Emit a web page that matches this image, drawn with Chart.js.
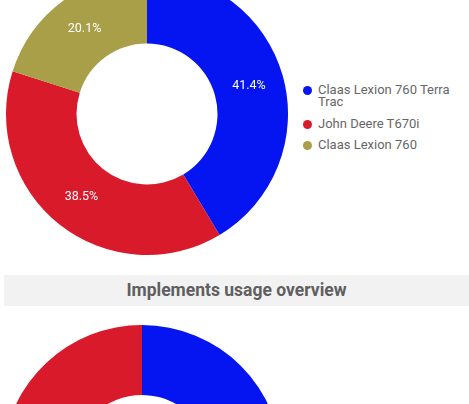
<!DOCTYPE html>
<html>
<head>
<meta charset="utf-8">
<script src="https://cdn.jsdelivr.net/npm/chart.js@4/dist/chart.umd.min.js"></script>
<style>
  html, body { margin: 0; padding: 0; background: #fff; overflow: hidden; }
  body { width: 469px; height: 404px; position: relative; font-family: Roboto, sans-serif; }
  .chart { position: absolute; }
  #legend1 { position: absolute; left: 302px; top: 84px; width: 167px; font-size: 13px; color: #666; }
  .item { position: relative; padding-left: 16px; line-height: 12px; margin-bottom: 9.5px; }
  .dot { position: absolute; left: 1px; top: 2px; width: 9px; height: 9px; border-radius: 50%; }
  .band { position: absolute; left: 4px; top: 275px; width: 465px; height: 31px; background: #f2f2f2;
          text-align: center; line-height: 31px; font-weight: bold; font-size: 17.5px; color: #5f5f5f; }
</style>
</head>
<body>
<div class="chart" style="left:6px; top:-27px; width:282px; height:282px;"><canvas id="machines"></canvas></div>
<div id="legend1"></div>
<div class="band">Implements usage overview</div>
<div class="chart" style="left:2px; top:325px; width:280px; height:280px;"><canvas id="implements"></canvas></div>
<script>
const machineLabels = ["Claas Lexion 760 Terra Trac", "John Deere T670i", "Claas Lexion 760"];
const machineShares = [41.4, 38.5, 20.1];
const machineColors = ["#0515f2", "#d91a2a", "#a89f48"];

const implementLabels = ["Implement A", "Implement B"];
const implementShares = [52.0, 48.0];
const implementColors = ["#0515f2", "#d91a2a"];

// draws the percent text in the middle of each arc
const percentLabels = {
  id: "percentLabels",
  afterDatasetsDraw(chart) {
    const ctx = chart.ctx;
    const meta = chart.getDatasetMeta(0);
    ctx.save();
    ctx.font = "12.5px Roboto, sans-serif";
    ctx.fillStyle = "#fff";
    ctx.textAlign = "center";
    ctx.textBaseline = "middle";
    meta.data.forEach((arc, i) => {
      const p = arc.tooltipPosition();
      ctx.fillText(chart.data.datasets[0].data[i].toFixed(1) + "%", p.x, p.y);
    });
    ctx.restore();
  }
};

function makeDoughnut(canvas, labels, values, colors) {
  return new Chart(canvas, {
    type: "doughnut",
    data: {
      labels: labels,
      datasets: [{ data: values, backgroundColor: colors, borderWidth: 0 }]
    },
    options: {
      responsive: true,
      maintainAspectRatio: false,
      animation: false,
      cutout: "50%",
      plugins: { legend: { display: false }, tooltip: { enabled: false } }
    },
    plugins: [percentLabels]
  });
}

makeDoughnut(document.getElementById("machines"), machineLabels, machineShares, machineColors);
makeDoughnut(document.getElementById("implements"), implementLabels, implementShares, implementColors);

const legend = document.getElementById("legend1");
machineLabels.forEach((label, i) => {
  const item = document.createElement("div");
  item.className = "item";
  item.innerHTML = '<span class="dot" style="background:' + machineColors[i] + '"></span>' + label;
  legend.appendChild(item);
});
</script>
</body>
</html>
